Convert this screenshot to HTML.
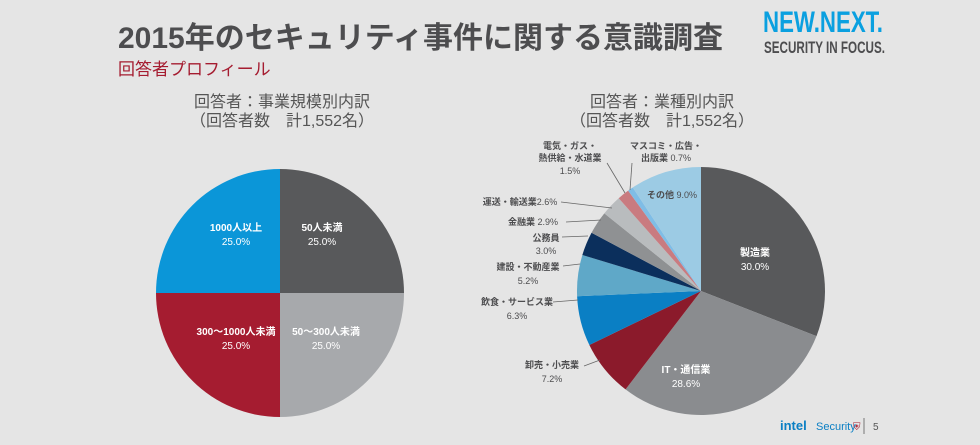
<!DOCTYPE html>
<html><head><meta charset="utf-8"><style>
body{margin:0;width:980px;height:440px;background:#e5e5e5;overflow:hidden;font-family:"Liberation Sans","Noto Sans CJK JP",sans-serif}
</style></head><body>
<svg id="s" width="980" height="440" xmlns="http://www.w3.org/2000/svg" font-family="Liberation Sans, Noto Sans CJK JP, sans-serif">
<text x="118" y="48" font-size="30" font-weight="bold" fill="#4d4d4f">2015年のセキュリティ事件に関する意識調査</text>
<text x="118" y="75" font-size="17" fill="#a51c30">回答者プロフィール</text>
<text x="763" y="32" font-size="30" font-weight="bold" fill="#0aa0e0" textLength="120" lengthAdjust="spacingAndGlyphs">NEW.NEXT.</text>
<text x="764" y="53" font-size="17" font-weight="bold" fill="#4d4d4f" textLength="121" lengthAdjust="spacingAndGlyphs">SECURITY IN FOCUS.</text>
<text x="282" y="107" font-size="16" fill="#555" text-anchor="middle">回答者：事業規模別内訳</text>
<text x="282" y="126" font-size="16" fill="#555" text-anchor="middle">（回答者数　計1,552名）</text>
<text x="662" y="107" font-size="16" fill="#555" text-anchor="middle">回答者：業種別内訳</text>
<text x="662" y="126" font-size="16" fill="#555" text-anchor="middle">（回答者数　計1,552名）</text>
<g id="L"></g><g id="R"></g>
<g font-size="10" fill="#fff" text-anchor="middle" font-weight="bold">
<text x="236" y="231">1000人以上</text><text x="236" y="245" font-weight="normal">25.0%</text>
<text x="322" y="231">50人未満</text><text x="322" y="245" font-weight="normal">25.0%</text>
<text x="236" y="335">300〜1000人未満</text><text x="236" y="349" font-weight="normal">25.0%</text>
<text x="326" y="335">50〜300人未満</text><text x="326" y="349" font-weight="normal">25.0%</text>
<text x="755" y="256">製造業</text><text x="755" y="270" font-weight="normal">30.0%</text>
<text x="686" y="373">IT・通信業</text><text x="686" y="387" font-weight="normal">28.6%</text>
</g>
<g font-size="9" fill="#4d4d4f" text-anchor="middle">
<text x="570" y="149" font-weight="bold">電気・ガス・</text>
<text x="570" y="161"><tspan font-weight="bold">熱供給・水道業</tspan></text>
<text x="570" y="174">1.5%</text>
<text x="666" y="149" font-weight="bold">マスコミ・広告・</text>
<text x="666" y="161"><tspan font-weight="bold">出版業</tspan> 0.7%</text>
<text x="672" y="198"><tspan font-weight="bold">その他</tspan> 9.0%</text>
<text x="520" y="205"><tspan font-weight="bold">運送・輸送業</tspan>2.6%</text>
<text x="533" y="225"><tspan font-weight="bold">金融業</tspan> 2.9%</text>
<text x="546" y="241" font-weight="bold">公務員</text><text x="546" y="254">3.0%</text>
<text x="528" y="270" font-weight="bold">建設・不動産業</text><text x="528" y="284">5.2%</text>
<text x="517" y="305" font-weight="bold">飲食・サービス業</text><text x="517" y="319">6.3%</text>
<text x="552" y="368" font-weight="bold">卸売・小売業</text><text x="552" y="382">7.2%</text>
</g>
<g stroke="#666" stroke-width="0.8" fill="none">
<polyline points="607,163 625,193"/>
<polyline points="632,163 630,190"/>
<polyline points="561,202 612,208"/>
<polyline points="566,222 601,220"/>
<polyline points="562,237 588,236"/>
<polyline points="563,266 580,264"/>
<polyline points="553,302 578,300"/>
<polyline points="584,366 600,360"/>
</g>
<text x="780" y="430" font-size="13" font-weight="bold" fill="#0a7fc4">intel</text>
<text x="816" y="430" font-size="11" fill="#0a7fc4">Security</text>
<text x="853" y="430" font-size="10" fill="#a51c30">⛨</text>
<line x1="864" y1="418" x2="864" y2="434" stroke="#777"/>
<text x="873" y="430" font-size="10" fill="#555">5</text>
</svg>
<script>
function arc(cx,cy,r,a0,a1,c){var p=a=>[cx+r*Math.sin(a),cy-r*Math.cos(a)];var s=p(a0),e=p(a1);
return '<path d="M'+cx+','+cy+'L'+s[0]+','+s[1]+'A'+r+','+r+' 0 '+(a1-a0>Math.PI?1:0)+' 1 '+e[0]+','+e[1]+'Z" fill="'+c+'"/>';}
var T=2*Math.PI,h='';
var lc=['#58595b','#a7a9ac','#a51c30','#0b96d8'];
for(var i=0;i<4;i++)h+=arc(280,293,124,i*T/4,(i+1)*T/4,lc[i]);
document.getElementById('L').innerHTML=h;
var d=[[30,'#58595b'],[28.6,'#8a8c8f'],[7.2,'#8b1a2b'],[6.3,'#0a7fc4'],[5.2,'#5fa8c8'],[3,'#0b2f5c'],[2.9,'#8f9193'],[2.6,'#b9bcbe'],[1.5,'#c97b80'],[0.7,'#7fbde6'],[9,'#9ccbe4']];
var tot=0;d.forEach(x=>tot+=x[0]);var a=0;h='';
d.forEach(x=>{var b=a+x[0]/tot*T;h+=arc(701,291,124,a,b,x[1]);a=b;});
document.getElementById('R').innerHTML=h;
</script>
</body></html>
